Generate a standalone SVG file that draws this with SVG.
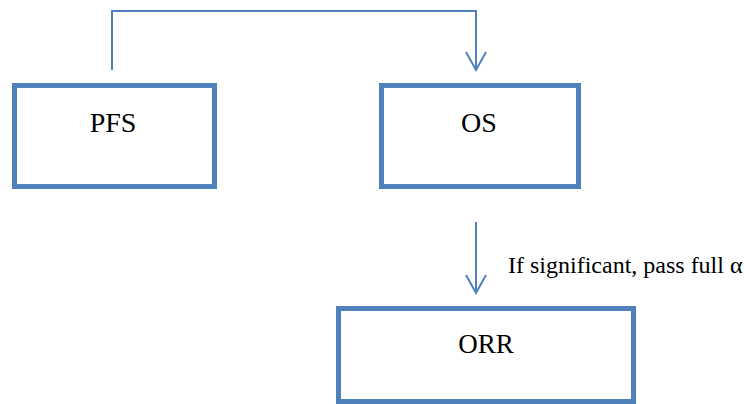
<svg xmlns="http://www.w3.org/2000/svg" width="745" height="404" viewBox="0 0 745 404">
<style>
.box{fill:#fff;stroke:#4F81BD;stroke-width:5}
.lbl{font-family:'Liberation Serif','DejaVu Serif',serif;font-size:28px;fill:#000;text-anchor:middle}
.edge{fill:none;stroke:#4F81BD;stroke-width:2}
.note{font-family:'Liberation Serif','DejaVu Serif',serif;font-size:24px;fill:#000}
</style>
<defs>
<marker id="arr" markerWidth="24" markerHeight="24" refX="20" refY="12" orient="auto" markerUnits="userSpaceOnUse">
<path d="M2,2 L20,12 L2,22" fill="none" stroke="#4F81BD" stroke-width="2"/>
</marker>
</defs>
<rect width="745" height="404" fill="#fff"/>
<g id="connectors">
<path class="edge" d="M112,70 V11 H476 V70" marker-end="url(#arr)"/>
<path class="edge" d="M476,222 V293" marker-end="url(#arr)"/>
<text class="note" x="508" y="273">If significant, pass full α</text>
</g>
<g id="PFS">
<rect class="box" x="14.5" y="85.5" width="200" height="101"/>
<text class="lbl" x="113" y="132">PFS</text>
</g>
<g id="OS">
<rect class="box" x="381.5" y="85.5" width="197" height="101"/>
<text class="lbl" x="479" y="132">OS</text>
</g>
<g id="ORR">
<rect class="box" x="338.5" y="308.5" width="295" height="93"/>
<text class="lbl" x="486" y="353" style="font-size:27px">ORR</text>
</g>
</svg>
